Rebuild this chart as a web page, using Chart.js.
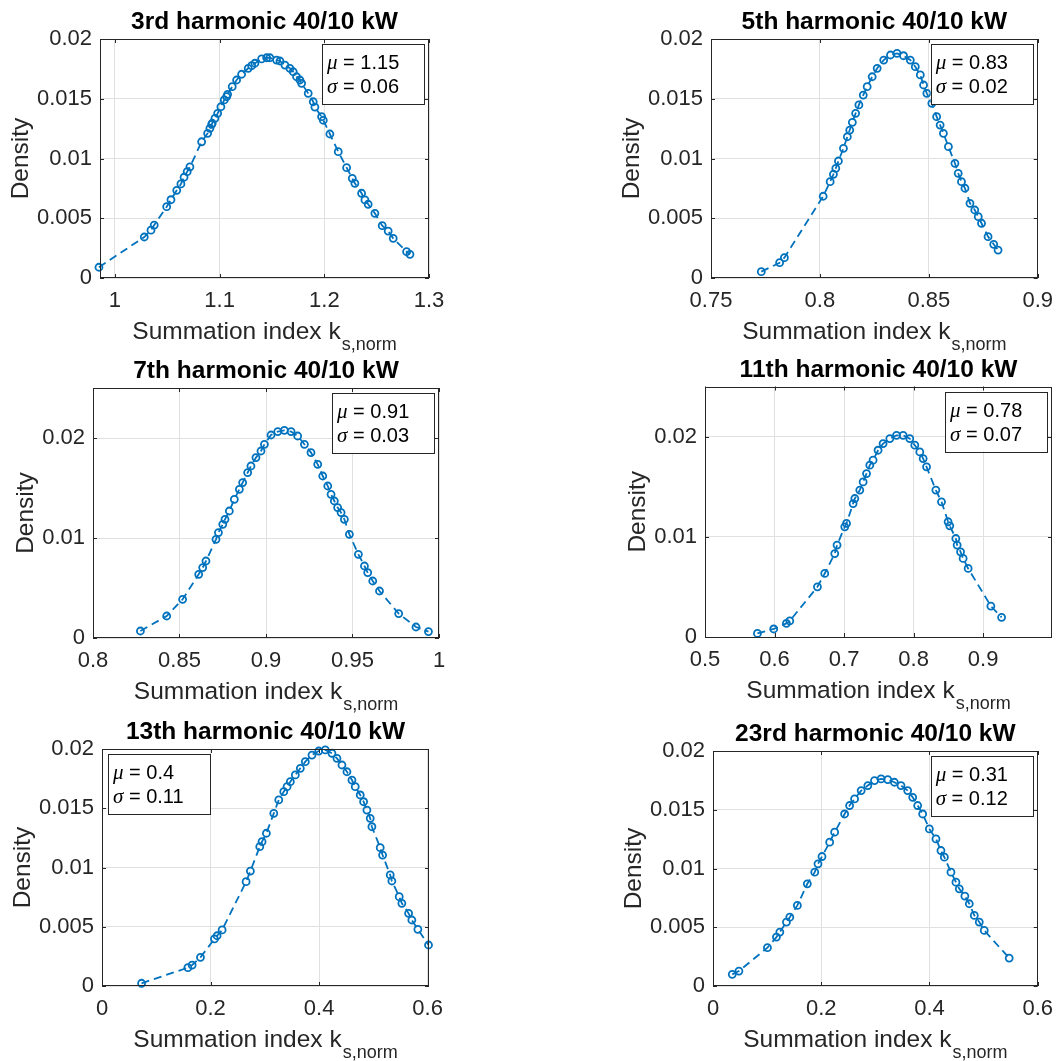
<!DOCTYPE html>
<html>
<head>
<meta charset="utf-8">
<title>Summation index density</title>
<script src="https://cdn.jsdelivr.net/npm/chart.js@4.4.1/dist/chart.umd.min.js"></script>
<style>
  html, body { margin: 0; padding: 0; background: #ffffff; }
  #fig { position: relative; width: 1063px; height: 1061px; }
  #fig canvas { position: absolute; left: 0; top: 0; }
</style>
</head>
<body>
<div id="fig"></div>
<script>
// --- datos de cada armónico ---
const titulos = ["3rd harmonic 40/10 kW", "5th harmonic 40/10 kW", "7th harmonic 40/10 kW",
                 "11th harmonic 40/10 kW", "13th harmonic 40/10 kW", "23rd harmonic 40/10 kW"];
const mu = ["1.15", "0.83", "0.91", "0.78", "0.4", "0.31"];
const sigma = ["0.06", "0.02", "0.03", "0.07", "0.11", "0.12"];

const ticksX = [[1, 1.1, 1.2, 1.3], [0.75, 0.8, 0.85, 0.9], [0.8, 0.85, 0.9, 0.95, 1],
                [0.5, 0.6, 0.7, 0.8, 0.9], [0, 0.2, 0.4, 0.6], [0, 0.2, 0.4, 0.6]];
const ticksY = [[0, 0.005, 0.01, 0.015, 0.02], [0, 0.005, 0.01, 0.015, 0.02], [0, 0.01, 0.02],
                [0, 0.01, 0.02], [0, 0.005, 0.01, 0.015, 0.02], [0, 0.005, 0.01, 0.015, 0.02]];
const limX = [[0.9857, 1.3], [0.75, 0.9], [0.8, 1], [0.5, 0.999], [0, 0.6025], [0, 0.6]];
const limY = [[0, 0.02], [0, 0.02], [0, 0.025], [0, 0.025], [0, 0.02], [0, 0.02]];

const k3 = [0.9847, 1.028, 1.0344, 1.0375, 1.0494, 1.0535, 1.059, 1.063, 1.066, 1.069, 1.0716, 1.0828,
  1.0885, 1.0907, 1.0924, 1.0929, 1.0955, 1.0981, 1.1012, 1.1044, 1.1067, 1.1076, 1.112, 1.1162, 1.121,
  1.1273, 1.1306, 1.1337, 1.1401, 1.1449, 1.148, 1.1544, 1.1576, 1.1624, 1.1671, 1.1703, 1.1735, 1.1767,
  1.1783, 1.1846, 1.1894, 1.191, 1.1974, 1.199, 1.2053, 1.2133, 1.2213, 1.2267, 1.2292, 1.2356, 1.2388,
  1.2419, 1.2483, 1.2553, 1.261, 1.2658, 1.2786, 1.2818];
const d3 = [0.0009, 0.00343, 0.0040, 0.00443, 0.00597, 0.00655, 0.00734, 0.00787, 0.00843, 0.0089, 0.0093, 0.0114,
  0.01211, 0.01253, 0.01286, 0.01295, 0.01336, 0.01378, 0.01433, 0.0149, 0.01517, 0.01537, 0.01601, 0.01657, 0.01705,
  0.01755, 0.01777, 0.01797, 0.01833, 0.01843, 0.01843, 0.01824, 0.01816, 0.01782, 0.01755, 0.01726, 0.01684, 0.01657,
  0.01629, 0.01545, 0.01475, 0.0143, 0.0135, 0.0132, 0.01205, 0.01057, 0.00923, 0.00834, 0.00792, 0.00709, 0.00653,
  0.00617, 0.00541, 0.00438, 0.00393, 0.00332, 0.0022, 0.00198];

const k5 = [0.7731, 0.7815, 0.7837, 0.8015, 0.8047, 0.8062, 0.8073, 0.8085, 0.8108, 0.8126, 0.8137, 0.8149,
  0.8164, 0.8179, 0.8199, 0.8217, 0.824, 0.8263, 0.8293, 0.8324, 0.8354, 0.8384, 0.8415, 0.8438, 0.8461,
  0.8476, 0.8491, 0.8514, 0.8536, 0.8552, 0.8567, 0.859, 0.862, 0.8635, 0.865, 0.8666, 0.8689, 0.8711,
  0.8727, 0.8742, 0.8772, 0.8798, 0.8818];
const d5 = [0.00053, 0.00128, 0.0017, 0.00684, 0.00806, 0.00868, 0.00918, 0.00979, 0.01085, 0.01182, 0.01238, 0.01303,
  0.01378, 0.01448, 0.01531, 0.01601, 0.01684, 0.01755, 0.01824, 0.01866, 0.0188, 0.0186, 0.01824, 0.01768, 0.01699,
  0.01615, 0.01545, 0.01462, 0.0135, 0.0128, 0.01211, 0.01099, 0.0096, 0.00876, 0.00806, 0.00751, 0.00625, 0.00569,
  0.00513, 0.00458, 0.00346, 0.00282, 0.00234];

const k7 = [0.8274, 0.8426, 0.8518, 0.8611, 0.8634, 0.8653, 0.8711, 0.8725, 0.875, 0.8763, 0.8788, 0.8817,
  0.8846, 0.8865, 0.8894, 0.8913, 0.8942, 0.8971, 0.8991, 0.9029, 0.9068, 0.9106, 0.9145, 0.9183, 0.9222,
  0.926, 0.9299, 0.9328, 0.9357, 0.9376, 0.9395, 0.9414, 0.9434, 0.9453, 0.9482, 0.9534, 0.9569, 0.9588,
  0.9617, 0.9656, 0.9767, 0.9867, 0.9939];
const d7 = [0.0007, 0.0022, 0.00387, 0.00637, 0.00704, 0.0077, 0.00987, 0.01054, 0.01137, 0.01187, 0.0127, 0.01387,
  0.01487, 0.01554, 0.01654, 0.0172, 0.01804, 0.0187, 0.01937, 0.0203, 0.02064, 0.02077, 0.02064, 0.0202, 0.01937,
  0.01854, 0.01737, 0.0162, 0.0152, 0.01437, 0.0137, 0.01304, 0.01254, 0.01187, 0.01037, 0.00837, 0.0072, 0.00654,
  0.0057, 0.0047, 0.00244, 0.0011, 0.00064];

const k11 = [0.5754, 0.5988, 0.6171, 0.6219, 0.6617, 0.6722, 0.6866, 0.6899, 0.701, 0.7035, 0.713, 0.7154,
  0.7226, 0.7274, 0.7323, 0.737, 0.7417, 0.7489, 0.7561, 0.7658, 0.7754, 0.7849, 0.7945, 0.8017, 0.8089,
  0.8137, 0.8186, 0.832, 0.8401, 0.8496, 0.852, 0.8607, 0.8626, 0.8675, 0.8712, 0.8784, 0.9111, 0.9265];
const d11 = [0.00036, 0.0008, 0.00136, 0.0016, 0.00501, 0.00634, 0.00833, 0.00917, 0.011, 0.01133, 0.01332, 0.01382,
  0.01466, 0.01548, 0.01631, 0.01715, 0.01765, 0.01864, 0.0193, 0.0198, 0.02013, 0.02013, 0.0198, 0.01914, 0.01847,
  0.01781, 0.01698, 0.01466, 0.01349, 0.0115, 0.0111, 0.00983, 0.00917, 0.0085, 0.00784, 0.00684, 0.00309, 0.00196];

const k13 = [0.0729, 0.1582, 0.1661, 0.1814, 0.2072, 0.2121, 0.2213, 0.2655, 0.2734, 0.2907, 0.2949, 0.3029,
  0.3165, 0.3257, 0.3349, 0.341, 0.347, 0.3562, 0.3654, 0.3746, 0.3869, 0.3993, 0.4114, 0.4237, 0.4329,
  0.4421, 0.4513, 0.4605, 0.4666, 0.4758, 0.482, 0.4881, 0.4942, 0.4973, 0.5126, 0.517, 0.531, 0.5341,
  0.5476, 0.5525, 0.5649, 0.5709, 0.582, 0.6016];
const d13 = [0.00023, 0.00155, 0.00177, 0.00242, 0.00397, 0.00424, 0.00473, 0.0088, 0.0097, 0.01176, 0.01218, 0.01289,
  0.01457, 0.0157, 0.0164, 0.01682, 0.01724, 0.01781, 0.01837, 0.01893, 0.01949, 0.01983, 0.01992, 0.01964, 0.01921,
  0.01865, 0.01808, 0.01738, 0.01682, 0.01612, 0.01555, 0.01485, 0.01415, 0.01344, 0.01167, 0.01105, 0.00937, 0.00886,
  0.00754, 0.00698, 0.00613, 0.00557, 0.00478, 0.00346];

const k23 = [0.0356, 0.0479, 0.1006, 0.1172, 0.1235, 0.1357, 0.1419, 0.1559, 0.1743, 0.188, 0.194, 0.2014,
  0.2156, 0.2248, 0.2432, 0.2524, 0.2616, 0.2738, 0.2861, 0.2984, 0.3106, 0.3229, 0.3352, 0.3474, 0.3597,
  0.369, 0.3782, 0.3874, 0.3998, 0.412, 0.4212, 0.4275, 0.4397, 0.4489, 0.4551, 0.4654, 0.4736, 0.4828,
  0.492, 0.5012, 0.5473];
const d23 = [0.00099, 0.00127, 0.00326, 0.00416, 0.00459, 0.00544, 0.00586, 0.00686, 0.0087, 0.00969, 0.0104, 0.01102,
  0.01224, 0.01309, 0.01464, 0.01536, 0.01592, 0.01663, 0.01706, 0.01748, 0.01762, 0.01757, 0.01734, 0.01706, 0.01663,
  0.01606, 0.01536, 0.01464, 0.01337, 0.01252, 0.01153, 0.01096, 0.00969, 0.00884, 0.00827, 0.00765, 0.007, 0.00601,
  0.00544, 0.00473, 0.00238];

const series = [[k3, d3], [k5, d5], [k7, d7], [k11, d11], [k13, d13], [k23, d23]];

// --- disposición de los ejes (left, top, right, bottom) ---
const ANCHO = 1063, ALTO = 1061;
const areas = [[100, 39, 429, 278], [711, 39, 1040, 278], [93, 388, 439, 638],
               [705, 386.5, 1052, 637], [102, 749, 429, 986], [713, 751, 1038, 986]];
const ladoCaja = ["right", "right", "right", "right", "left", "right"];
const EJE_Y = 90, EJE_X = 42; // espacio reservado a los números de cada eje

const AZUL = "#0072BD";
const TEXTO = "#262626";
const FUENTE = '"Liberation Sans", Arial, Helvetica, sans-serif';

// caja, marcas internas, títulos, etiquetas y recuadro con mu/sigma
const marco = {
  id: "marco",
  afterDraw(chart, args, opts) {
    const { ctx, chartArea: a, scales } = chart;
    const sx = scales.x, sy = scales.y;
    ctx.save();
    ctx.strokeStyle = TEXTO;
    ctx.lineWidth = 1;

    // marcas hacia adentro
    ctx.beginPath();
    sx.ticks.forEach(t => {
      const p = Math.round(sx.getPixelForValue(t.value)) + 0.5;
      ctx.moveTo(p, a.bottom); ctx.lineTo(p, a.bottom - 4);
      ctx.moveTo(p, a.top); ctx.lineTo(p, a.top + 4);
    });
    sy.ticks.forEach(t => {
      const p = Math.round(sy.getPixelForValue(t.value)) + 0.5;
      ctx.moveTo(a.left, p); ctx.lineTo(a.left + 4, p);
      ctx.moveTo(a.right, p); ctx.lineTo(a.right - 4, p);
    });
    ctx.stroke();
    ctx.strokeRect(Math.round(a.left) + 0.5, Math.round(a.top) + 0.5,
                   Math.round(a.width) - 1, Math.round(a.height) - 1);

    const cx = (a.left + a.right) / 2;
    ctx.fillStyle = "#000000";

    // título
    ctx.font = "bold 24.5px " + FUENTE;
    ctx.textAlign = "center";
    ctx.textBaseline = "alphabetic";
    ctx.fillText(opts.titulo, cx, a.top - 10);

    // etiqueta x con subíndice
    ctx.fillStyle = TEXTO;
    ctx.textAlign = "left";
    const principal = "Summation index k", sub = "s,norm";
    ctx.font = "24.5px " + FUENTE;
    const wP = ctx.measureText(principal).width;
    ctx.font = "18px " + FUENTE;
    const wS = ctx.measureText(sub).width;
    const x0 = cx - (wP + wS + 1) / 2;
    ctx.font = "24.5px " + FUENTE;
    ctx.fillText(principal, x0, a.bottom + 61);
    ctx.font = "18px " + FUENTE;
    ctx.fillText(sub, x0 + wP + 1, a.bottom + 72);

    // etiqueta y, a la izquierda de los números
    ctx.font = "22px " + FUENTE;
    let wTick = 0;
    sy.ticks.forEach(t => { wTick = Math.max(wTick, ctx.measureText(String(t.value)).width); });
    ctx.save();
    ctx.translate(a.left - 8 - wTick - 9, (a.top + a.bottom) / 2);
    ctx.rotate(-Math.PI / 2);
    ctx.textAlign = "center";
    ctx.font = "24.5px " + FUENTE;
    ctx.fillText("Density", 0, 0);
    ctx.restore();

    // recuadro mu / sigma
    const anchoCaja = 102, altoCaja = 60;
    const bx = opts.lado === "left" ? a.left + 6 : a.right - 5 - anchoCaja;
    const by = a.top + 5;
    ctx.fillStyle = "#ffffff";
    ctx.fillRect(bx, by, anchoCaja, altoCaja);
    ctx.strokeStyle = "#262626";
    ctx.strokeRect(Math.round(bx) + 0.5, Math.round(by) + 0.5, anchoCaja, altoCaja);
    ctx.fillStyle = "#000000";
    [["\u03bc", opts.mu, 25], ["\u03c3", opts.sigma, 49]].forEach(([g, v, dy]) => {
      ctx.font = "italic 21px \"Liberation Serif\", serif";
      ctx.fillText(g, bx + 5, by + dy);
      const wg = ctx.measureText(g).width;
      ctx.font = "20px " + FUENTE;
      ctx.fillText(" = " + v, bx + 5 + wg, by + dy);
    });
    ctx.restore();
  }
};

const fig = document.getElementById("fig");

series.forEach(([ks, dens], i) => {
  const canvas = document.createElement("canvas");
  canvas.width = ANCHO;
  canvas.height = ALTO;
  fig.appendChild(canvas);
  const [l, t, r, b] = areas[i];

  new Chart(canvas.getContext("2d"), {
    type: "scatter",
    data: {
      datasets: [{
        data: ks.map((k, j) => ({ x: k, y: dens[j] })),
        showLine: true,
        borderColor: AZUL,
        borderWidth: 1.8,
        borderDash: [8, 5],
        pointStyle: "circle",
        pointRadius: 3.5,
        pointBorderWidth: 1.8,
        pointBorderColor: AZUL,
        pointBackgroundColor: "rgba(0,0,0,0)",
        clip: false
      }]
    },
    options: {
      responsive: false,
      animation: false,
      devicePixelRatio: 1,
      layout: {
        autoPadding: false,
        padding: { left: l - EJE_Y, top: t, right: ANCHO - r, bottom: ALTO - b - EJE_X }
      },
      plugins: {
        legend: { display: false },
        tooltip: { enabled: false },
        marco: { titulo: titulos[i], mu: mu[i], sigma: sigma[i], lado: ladoCaja[i] }
      },
      scales: {
        x: {
          type: "linear",
          min: limX[i][0],
          max: limX[i][1],
          afterBuildTicks: s => { s.ticks = ticksX[i].map(v => ({ value: v })); },
          afterFit: s => { s.height = EJE_X; },
          grid: { color: "#e0e0e0", drawTicks: false },
          border: { display: false },
          ticks: { color: TEXTO, font: { family: FUENTE, size: 22 }, padding: 10,
                   maxRotation: 0, minRotation: 0, autoSkip: false, callback: v => String(v) }
        },
        y: {
          type: "linear",
          min: limY[i][0],
          max: limY[i][1],
          afterBuildTicks: s => { s.ticks = ticksY[i].map(v => ({ value: v })); },
          afterFit: s => { s.width = EJE_Y; },
          grid: { color: "#e0e0e0", drawTicks: false },
          border: { display: false },
          ticks: { color: TEXTO, font: { family: FUENTE, size: 22 }, padding: 8,
                   autoSkip: false, callback: v => String(v) }
        }
      }
    },
    plugins: [marco]
  });
});
</script>
</body>
</html>
